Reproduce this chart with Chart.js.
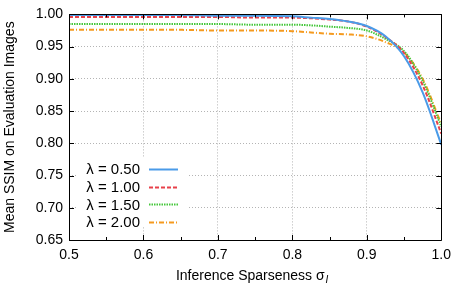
<!DOCTYPE html>
<html>
<head>
<meta charset="utf-8">
<script src="https://cdn.jsdelivr.net/npm/chart.js@4/dist/chart.umd.min.js"></script>
<style>
  html, body { margin: 0; padding: 0; background: #fff; }
  #wrap { width: 458px; height: 285px; }
</style>
</head>
<body>
<div id="wrap"><canvas id="ssimChart" width="458" height="285"></canvas></div>
<script>
// values
const sparseness = [0.5, 0.55, 0.6, 0.65, 0.7, 0.75, 0.8, 0.825, 0.85, 0.875, 0.9, 0.925, 0.95, 0.975, 1.0];
const ssimL050 = [0.999, 0.999, 0.999, 0.999, 0.998, 0.998, 0.997, 0.995, 0.993, 0.989, 0.982, 0.966, 0.935, 0.879, 0.798];
const ssimL100 = [0.996, 0.996, 0.996, 0.996, 0.996, 0.995, 0.995, 0.994, 0.992, 0.989, 0.981, 0.965, 0.940, 0.890, 0.815];
const ssimL150 = [0.985, 0.985, 0.985, 0.985, 0.985, 0.984, 0.984, 0.983, 0.981, 0.979, 0.975, 0.962, 0.943, 0.897, 0.826];
const ssimL200 = [0.976, 0.976, 0.976, 0.976, 0.975, 0.975, 0.974, 0.972, 0.970, 0.969, 0.966, 0.957, 0.941, 0.900, 0.830];
const seriesLabels = ["λ = 0.50", "λ = 1.00", "λ = 1.50", "λ = 2.00"];
const xTicks = [0.5, 0.6, 0.7, 0.8, 0.9, 1.0];
const yTicks = [0.65, 0.70, 0.75, 0.80, 0.85, 0.90, 0.95, 1.00];

const FONT = "'Liberation Sans', Arial, Helvetica, sans-serif";
const colors = ["#4a9be8", "#e8414a", "#46c83c", "#f59a1e"];
const dashes = [[], [4, 2], [1.5, 1], [5, 2, 1, 2]];

const toPts = ys => sparseness.map((x, i) => ({ x: x, y: ys[i] }));
const allSeries = [ssimL050, ssimL100, ssimL150, ssimL200];

// frame, inward ticks, axis titles, legend
const framePlugin = {
  id: "frame",
  afterDatasetsDraw(chart) {
    const { ctx, chartArea: a, scales } = chart;
    const xs = scales.x, ys = scales.y;
    ctx.save();
    ctx.strokeStyle = "#000";
    ctx.lineWidth = 1;
    ctx.setLineDash([]);
    ctx.beginPath();
    ctx.rect(Math.round(a.left) + 0.5, Math.round(a.top) + 0.5,
             Math.round(a.right - a.left), Math.round(a.bottom - a.top));
    ctx.stroke();

    ctx.beginPath();
    // x ticks, major and minor, bottom and top
    for (let v = 0.5; v <= 1.0001; v += 0.05) {
      const px = Math.round(xs.getPixelForValue(v)) + 0.5;
      const major = Math.abs(v * 10 - Math.round(v * 10)) < 1e-6;
      const len = major ? 5 : 3;
      ctx.moveTo(px, a.bottom); ctx.lineTo(px, a.bottom - len);
      ctx.moveTo(px, a.top); ctx.lineTo(px, a.top + len);
    }
    yTicks.forEach(v => {
      const py = Math.round(ys.getPixelForValue(v)) + 0.5;
      ctx.moveTo(a.left, py); ctx.lineTo(a.left + 5, py);
      ctx.moveTo(a.right, py); ctx.lineTo(a.right - 5, py);
    });
    ctx.stroke();

    // legend
    const lx = 140, ly = 169, step = 17.7;
    ctx.fillStyle = "#fff";
    ctx.fillRect(78, 157, 110, 70);
    ctx.font = "15px " + FONT;
    ctx.textAlign = "right";
    ctx.textBaseline = "middle";
    seriesLabels.forEach((lab, i) => {
      const y = ly + i * step;
      ctx.fillStyle = "#000";
      ctx.fillText(lab, lx, y + 1);
      ctx.strokeStyle = colors[i];
      ctx.lineWidth = 2;
      ctx.setLineDash(dashes[i]);
      ctx.beginPath();
      ctx.moveTo(149, Math.round(y) + 0.5);
      ctx.lineTo(178, Math.round(y) + 0.5);
      ctx.stroke();
    });
    ctx.setLineDash([]);

    // axis titles
    ctx.fillStyle = "#000";
    ctx.font = "14px " + FONT;
    ctx.textBaseline = "alphabetic";
    ctx.textAlign = "left";
    const main = "Inference Sparseness σ";
    const w = ctx.measureText(main).width;
    ctx.font = "italic 10px " + FONT;
    const ws = ctx.measureText("I").width;
    const x0 = (a.left + a.right) / 2 - (w + ws + 1) / 2 - 3;
    ctx.font = "14px " + FONT;
    ctx.fillText(main, x0, 280);
    ctx.font = "italic 10px " + FONT;
    ctx.fillText("I", x0 + w + 1, 283);

    ctx.save();
    ctx.translate(14, (a.top + a.bottom) / 2);
    ctx.rotate(-Math.PI / 2);
    ctx.textAlign = "center";
    ctx.font = "14px " + FONT;
    ctx.fillText("Mean SSIM on Evaluation Images", 0, 0);
    ctx.restore();
    ctx.restore();
  }
};

new Chart(document.getElementById("ssimChart"), {
  type: "line",
  data: {
    datasets: allSeries.map((ys, i) => ({
      label: seriesLabels[i],
      data: toPts(ys),
      borderColor: colors[i],
      borderWidth: 2,
      borderDash: dashes[i],
      pointRadius: 0,
      fill: false,
      cubicInterpolationMode: "monotone",
      clip: 2
    }))
  },
  options: {
    responsive: false,
    animation: false,
    devicePixelRatio: 1,
    layout: { padding: { top: 7, right: 16, left: 0, bottom: 0 } },
    plugins: { legend: { display: false }, tooltip: { enabled: false } },
    scales: {
      x: {
        type: "linear",
        min: 0.5,
        max: 1.0,
        afterFit: s => { s.height = 45; },
        afterBuildTicks: s => { s.ticks = xTicks.map(v => ({ value: v })); },
        ticks: {
          padding: 7,
          color: "#000",
          font: { family: FONT, size: 14 },
          callback: v => v.toFixed(1)
        },
        grid: { color: "#b4b4b4", lineWidth: 1, drawTicks: false },
        border: { display: false, dash: [1, 2] }
      },
      y: {
        min: 0.65,
        max: 1.0,
        afterFit: s => { s.width = 69; },
        afterBuildTicks: s => { s.ticks = yTicks.map(v => ({ value: v })); },
        ticks: {
          padding: 6,
          color: "#000",
          font: { family: FONT, size: 14 },
          callback: v => v.toFixed(2)
        },
        grid: { color: "#b4b4b4", lineWidth: 1, drawTicks: false },
        border: { display: false, dash: [1, 2] }
      }
    }
  },
  plugins: [framePlugin]
});
</script>
</body>
</html>
